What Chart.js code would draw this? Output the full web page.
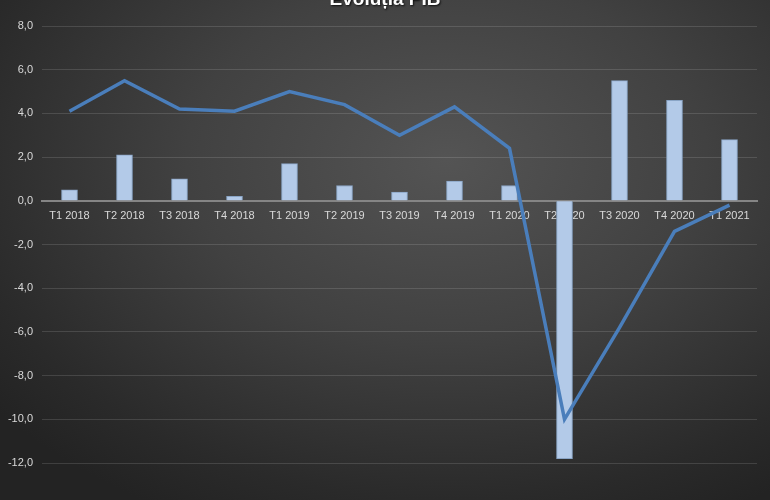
<!DOCTYPE html>
<html>
<head>
<meta charset="utf-8">
<script src="https://cdn.jsdelivr.net/npm/chart.js@4/dist/chart.umd.min.js"></script>
<style>
  html, body { margin: 0; padding: 0; }
  body {
    width: 770px; height: 500px; overflow: hidden;
    background: radial-gradient(ellipse 75% 80% at 58% 32%, #545454 0%, #414141 45%, #2a2a2a 85%, #232323 100%);
  }
  #wrap { width: 770px; height: 500px; }
</style>
</head>
<body>
<div id="wrap"><canvas id="pib"></canvas></div>
<script>
const labels = ['T1 2018', 'T2 2018', 'T3 2018', 'T4 2018', 'T1 2019', 'T2 2019', 'T3 2019',
                'T4 2019', 'T1 2020', 'T2 2020', 'T3 2020', 'T4 2020', 'T1 2021'];
// quarter-on-quarter change (bars)
const qoq = [0.5, 2.1, 1.0, 0.2, 1.7, 0.7, 0.4, 0.9, 0.7, -11.8, 5.5, 4.6, 2.8];
// year-on-year change (line)
const yoy = [4.1, 5.5, 4.2, 4.1, 5.0, 4.4, 3.0, 4.3, 2.4, -10.0, -5.8, -1.4, -0.2];
const yMin = -12, yMax = 8, yStep = 2;

// title sits partly above the top edge, so draw it by hand
const titlePlugin = {
    id: 'cutTitle',
    afterDraw(c) {
        const ctx = c.ctx;
        ctx.save();
        ctx.font = 'bold 19px "Liberation Sans", Arial, sans-serif';
        ctx.textAlign = 'center';
        ctx.textBaseline = 'alphabetic';
        ctx.shadowColor = 'rgba(0,0,0,0.8)';
        ctx.shadowOffsetX = 1;
        ctx.shadowOffsetY = 1;
        ctx.shadowBlur = 2;
        ctx.fillStyle = '#ffffff';
        ctx.fillText('Evoluția PIB', 385, 5);
        ctx.restore();
    }
};

// light-to-darker blue fill per bar
function barFill(ctx) {
    const bar = ctx.element;
    const c = ctx.chart.ctx;
    if (!bar || bar.y === undefined || bar.base === undefined) return '#b3cae8';
    const top = Math.min(bar.y, bar.base), bottom = Math.max(bar.y, bar.base);
    if (bottom - top < 1) return '#b3cae8';
    const g = c.createLinearGradient(0, top, 0, bottom);
    g.addColorStop(0, '#c4d7f0');
    g.addColorStop(1, '#9db8dc');
    return g;
}

new Chart(document.getElementById('pib'), {
    data: {
        labels: labels,
        datasets: [{
            type: 'line',
            data: yoy,
            borderColor: '#4a7ebb',
            borderWidth: 3.5,
            pointRadius: 0,
            tension: 0,
            order: 0
        }, {
            type: 'bar',
            data: qoq,
            backgroundColor: barFill,
            borderColor: '#8aa5c6',
            borderWidth: 1,
            barThickness: 16,
            order: 1
        }]
    },
    options: {
        responsive: true,
        maintainAspectRatio: false,
        animation: false,
        layout: { padding: { top: 26, right: 13, bottom: 37, left: 0 } },
        plugins: {
            legend: { display: false },
            tooltip: { enabled: false }
        },
        scales: {
            x: {
                position: { y: 0 },
                grid: { display: false },
                border: { color: '#858585', width: 2 },
                ticks: {
                    color: '#d9d9d9',
                    padding: 1,
                    maxRotation: 0,
                    font: { family: '"Liberation Sans", Arial, sans-serif', size: 11 }
                }
            },
            y: {
                min: yMin,
                max: yMax,
                afterFit(s) { s.width = 42; },
                grid: {
                    color: 'rgba(255,255,255,0.13)',
                    drawTicks: false
                },
                border: { display: false },
                ticks: {
                    stepSize: yStep,
                    color: '#d9d9d9',
                    padding: 9,
                    font: { family: '"Liberation Sans", Arial, sans-serif', size: 11 },
                    callback: v => v.toFixed(1).replace('.', ',')
                }
            }
        }
    },
    plugins: [titlePlugin]
});
</script>
</body>
</html>
